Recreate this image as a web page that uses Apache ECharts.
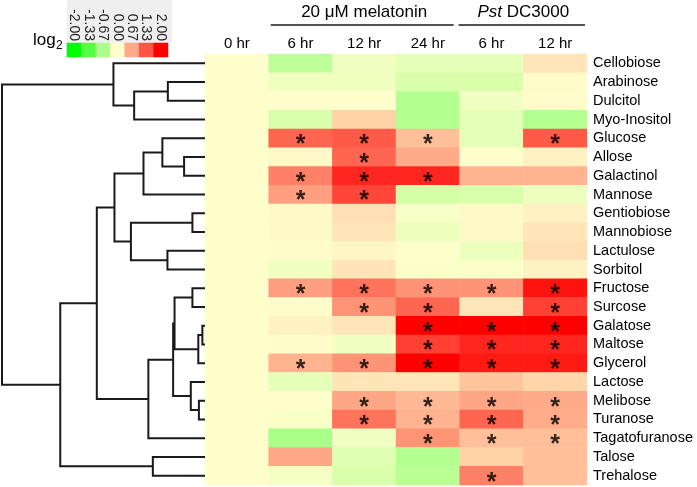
<!DOCTYPE html>
<html><head><meta charset="utf-8">
<script src="https://cdn.jsdelivr.net/npm/echarts@6/dist/echarts.min.js"></script>
<style>html,body{margin:0;padding:0;background:#fff}#c{width:697px;height:487px}</style>
</head><body><div id="c"></div><script>
// ---------- data ----------
const rowNames = ['Cellobiose','Arabinose','Dulcitol','Myo-Inositol','Glucose','Allose','Galactinol','Mannose',
  'Gentiobiose','Mannobiose','Lactulose','Sorbitol','Fructose','Surcose','Galatose','Maltose','Glycerol',
  'Lactose','Melibose','Turanose','Tagatofuranose','Talose','Trehalose'];
const colNames = ['0 hr','6 hr','12 hr','24 hr','6 hr','12 hr'];
const groupNames = ['20 \u03bcM melatonin', 'Pst DC3000'];
// log2 fold changes, one array per column (rows in rowNames order)
const v0hr   = [0,0,0,0,0,0,0,0,0,0,0,0,0,0,0,0,0,0,0,0,0,0,0];
const vMel6  = [-0.5,-0.12,0,-0.3,1.2,0.05,1.0,0.75,0.05,0.05,0.02,-0.1,0.75,0.02,0.1,0.02,0.6,-0.2,0,-0.05,-0.67,0.7,-0.08];
const vMel12 = [-0.1,-0.12,0,0.35,1.3,1.2,1.7,1.45,0.25,0.2,0.07,0.2,1.1,0.85,0.2,-0.1,0.85,0.2,0.7,1.1,-0.1,-0.25,-0.3];
const vMel24 = [-0.2,-0.3,-0.6,-0.6,0.5,0.67,1.7,-0.35,-0.07,-0.15,-0.02,-0.05,0.85,1.2,2.0,1.5,2.0,0.2,0.55,0.6,0.85,-0.6,-0.55];
const vPst6  = [-0.2,-0.3,-0.1,-0.2,-0.2,0,0.6,-0.3,0.05,0.05,-0.15,-0.05,0.85,0.2,2.0,1.7,1.8,0.45,0.7,1.2,0.5,0.35,1.0];
const vPst12 = [0.2,0.03,0.02,-0.6,1.3,0.1,0.6,-0.15,0.1,0.2,0.25,0.1,1.85,1.5,2.0,1.7,1.8,0.33,0.67,0.65,0.5,0.5,0.5];
// significance (1 = asterisk)
const sMel6  = [0,0,0,0,1,0,1,1,0,0,0,0,1,0,0,0,1,0,0,0,0,0,0];
const sMel12 = [0,0,0,0,1,1,1,1,0,0,0,0,1,1,0,0,1,0,1,1,0,0,0];
const sMel24 = [0,0,0,0,1,0,1,0,0,0,0,0,1,1,1,1,1,0,1,1,1,0,0];
const sPst6  = [0,0,0,0,0,0,0,0,0,0,0,0,1,0,1,1,1,0,1,1,1,0,1];
const sPst12 = [0,0,0,0,1,0,0,0,0,0,0,0,1,1,1,1,1,0,1,1,1,0,0];
// dendrogram merges: leaves 0..22, merge k -> node 23+k
const mergeA = [1,23,0,5,4,27,8,10,29,28,12,14,34,33,18,17,36,39,32,21,41,25];
const mergeB = [2,3,24,6,26,7,9,11,30,31,13,15,16,35,19,37,38,20,40,22,42,43];
const mergeH = [0.183,0.349,0.451,0.103,0.210,0.303,0.062,0.185,0.365,0.446,0.062,0.013,0.033,0.150,0.030,0.070,0.157,0.279,0.533,0.257,0.713,1.0];
// colour key
const keyValues = [-2,-1.33,-0.67,0,0.67,1.33,2];
const keyLabels = ['-2.00','-1.33','-0.67','0.00','0.67','1.33','2.00'];

// ---------- build ----------
const FONT = 'Liberation Sans, Arial, sans-serif';
const cols = [v0hr, vMel6, vMel12, vMel24, vPst6, vPst12];
const sigs = [null, sMel6, sMel12, sMel24, sPst6, sPst12];
const heat = [], stars = [];
cols.forEach((arr, c) => arr.forEach((v, r) => heat.push([c, r, v])));
sigs.forEach((arr, c) => { if (arr) arr.forEach((s, r) => { if (s) stars.push([c, r]); }); });
// dendrogram node positions
const nodeY = rowNames.map((_, i) => i), nodeH = rowNames.map(() => 0);
const dendro = [];
mergeA.forEach((a, k) => {
  const b = mergeB[k], h = mergeH[k];
  dendro.push([nodeH[a], nodeY[a], nodeH[b], nodeY[b], h]);
  nodeY.push((nodeY[a] + nodeY[b]) / 2); nodeH.push(h);
});
const keyData = keyValues.map((v, i) => [i, 0, v]);

const chart = echarts.init(document.getElementById('c'), null, {renderer: 'canvas'});
const noAxis = {axisLine:{show:false}, axisTick:{show:false}, splitLine:{show:false}};
chart.setOption({
  backgroundColor: '#fff',
  animation: false,
  textStyle: {fontFamily: FONT},
  grid: [
    {left: 205, right: 110, top: 54, bottom: 2},
    {left: 2, right: 492, top: 54, bottom: 2},
    {left: 67, width: 101, top: 43, height: 14}
  ],
  xAxis: [
    Object.assign({type:'category', data: colNames, position:'top', gridIndex:0,
      axisLabel:{interval:0, fontSize:15, color:'#000', margin:3, fontFamily:FONT}}, noAxis),
    {type:'value', gridIndex:1, min:0, max:1, inverse:true, show:false},
    Object.assign({type:'category', data: keyLabels, position:'top', gridIndex:2,
      axisLabel:{interval:0, rotate:90, fontSize:14, color:'#222', margin:2, fontFamily:FONT, padding:[12,0,0,0]}}, noAxis)
  ],
  yAxis: [
    Object.assign({type:'category', data: rowNames, inverse:true, position:'right', gridIndex:0,
      axisLabel:{interval:0, fontSize:14.5, color:'#000', margin:6, fontFamily:FONT}}, noAxis),
    {type:'value', gridIndex:1, min:-0.5, max:22.5, inverse:true, show:false},
    {type:'category', data:[''], gridIndex:2, show:false}
  ],
  visualMap: {
    show:false, type:'continuous', min:-2, max:2, dimension:2, seriesIndex:[0,3],
    inRange:{color:['#00ff00','#ffffcc','#ff0000']}
  },
  series: [
    {type:'heatmap', xAxisIndex:0, yAxisIndex:0, data: heat, itemStyle:{borderWidth:0}, emphasis:{disabled:true}},
    {type:'scatter', xAxisIndex:0, yAxisIndex:0, data: stars, symbol:'rect', symbolSize:1,
      itemStyle:{color:'rgba(0,0,0,0)'}, silent:true,
      label:{show:true, position:'inside', formatter:'*', fontSize:25, fontWeight:'bold', color:'#000', offset:[0,7], fontFamily:FONT}},
    {type:'custom', xAxisIndex:1, yAxisIndex:1, data: dendro, silent:true,
      encode:{x:[0,2,4], y:[1,3]},
      renderItem: function (params, api) {
        const hA = api.value(0), yA = api.value(1), hB = api.value(2), yB = api.value(3), h = api.value(4);
        return {type:'polyline', shape:{points:[api.coord([hA,yA]), api.coord([h,yA]), api.coord([h,yB]), api.coord([hB,yB])]},
          style:{stroke:'#1a1a1a', lineWidth:2, fill:null}};
      }},
    {type:'heatmap', xAxisIndex:2, yAxisIndex:2, data: keyData, itemStyle:{borderWidth:0}, emphasis:{disabled:true}, z:3}
  ]
});

// annotations derived from the axis scale
const cx = i => chart.convertToPixel({xAxisIndex:0}, i);
const cw = cx(1) - cx(0);
const left = i => cx(i) - cw / 2, right = i => cx(i) + cw / 2;
chart.setOption({
  graphic: [
    {type:'rect', z:-1, shape:{x:67, y:0, width:105, height:43}, style:{fill:'#efefef'}},
    {type:'text', style:{text:'log', x:33, y:40, font:'17px ' + FONT, fill:'#000', verticalAlign:'middle'}},
    {type:'text', style:{text:'2', x:56, y:46, font:'12px ' + FONT, fill:'#000', verticalAlign:'middle'}},
    {type:'text', style:{text: groupNames[0], x: cx(2), y: 12, font:'17px ' + FONT, fill:'#000', align:'center', verticalAlign:'middle'}},
    {type:'text', style:{text: '{i|Pst} DC3000', x: (cx(4)+cx(5))/2, y: 12, align:'center', verticalAlign:'middle',
      rich:{i:{fontStyle:'italic', fontSize:17, fontFamily:FONT, color:'#000'}}, font:'17px ' + FONT, fill:'#000'}},
    {type:'line', shape:{x1:left(1)+2, y1:25, x2:right(3)-6, y2:25}, style:{stroke:'#1a1a1a', lineWidth:1.6}},
    {type:'line', shape:{x1:left(4)-1, y1:25, x2:right(5)-2, y2:25}, style:{stroke:'#1a1a1a', lineWidth:1.6}}
  ]
});
</script></body></html>
